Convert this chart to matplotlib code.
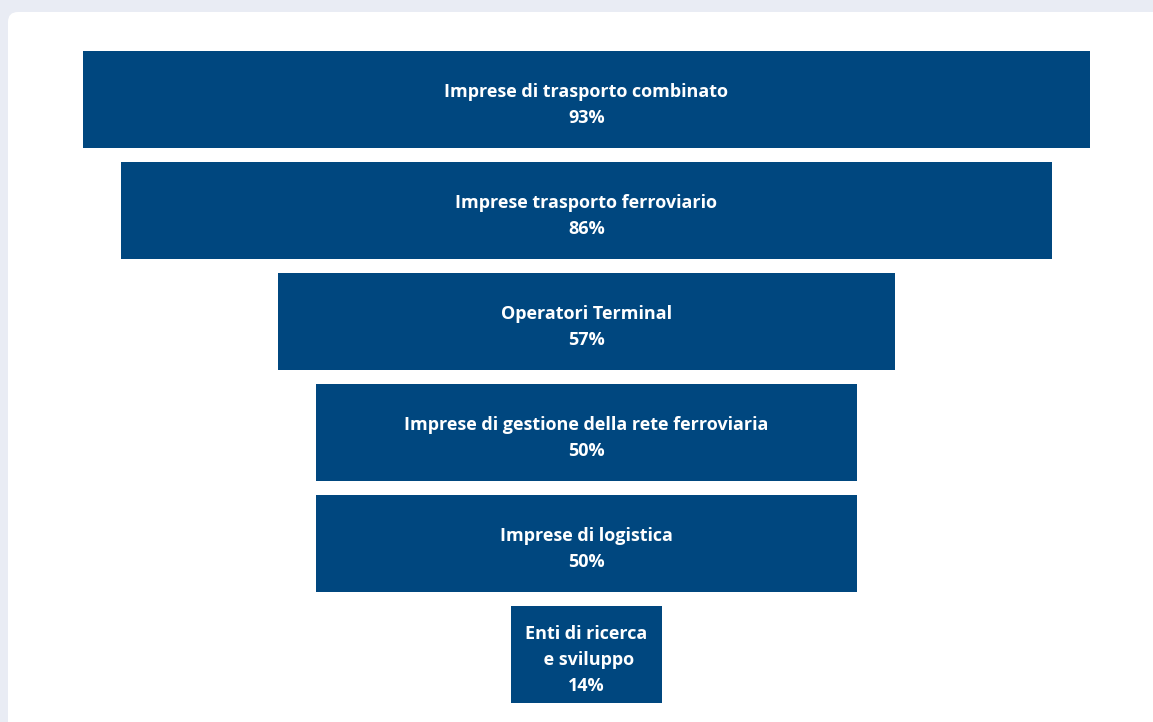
import matplotlib.pyplot as plt
from matplotlib.patches import FancyBboxPatch
from matplotlib.transforms import IdentityTransform

# funnel stages, top to bottom
labels = [
    "Imprese di trasporto combinato",
    "Imprese trasporto ferroviario",
    "Operatori Terminal",
    "Imprese di gestione della rete ferroviaria",
    "Imprese di logistica",
    "Enti di ricerca\n e sviluppo",
]
shares = [93, 86, 57, 50, 50, 14]

BAR_COLOR = "#00477f"
PAGE_BG = "#e9ecf4"

plt.rcParams["font.family"] = ["Open Sans", "DejaVu Sans"]

W, H, DPI = 1153, 722, 100
fig = plt.figure(figsize=(W / DPI, H / DPI), dpi=DPI)
fig.patch.set_facecolor(PAGE_BG)

# white card behind the chart, pixel coordinates
card = FancyBboxPatch((8, -40), W + 40, H - 12 + 40,
                      boxstyle="round,pad=0,rounding_size=10",
                      facecolor="white", edgecolor="none",
                      transform=IdentityTransform(), zorder=-5)
fig.patches.append(card)

ax = fig.add_axes([0, 0, 1, 1])
ax.set_facecolor("none")
ax.set_zorder(1)

# scale: 100% spans 1083 px, funnel centred at x=586.5 px
px_per_pct = 10.83
cx = 586.5
ax.set_xlim(-cx / px_per_pct, (W - cx) / px_per_pct)
row_px = 111
top_px = 99.5
ax.set_ylim((H - top_px) / row_px, -top_px / row_px)

ys = list(range(len(shares)))
ax.barh(ys, shares, left=[-v / 2 for v in shares], height=0.88,
        color=BAR_COLOR, zorder=2)

for y, lab, v in zip(ys, labels, shares):
    ax.text(0, y + 0.05, f"{lab}\n{v}%", ha="center", va="center",
            color="white", fontsize=13, fontweight="bold",
            linespacing=1.6, zorder=3)

ax.axis("off")
fig.savefig("out.png", dpi=DPI, facecolor=fig.get_facecolor())
